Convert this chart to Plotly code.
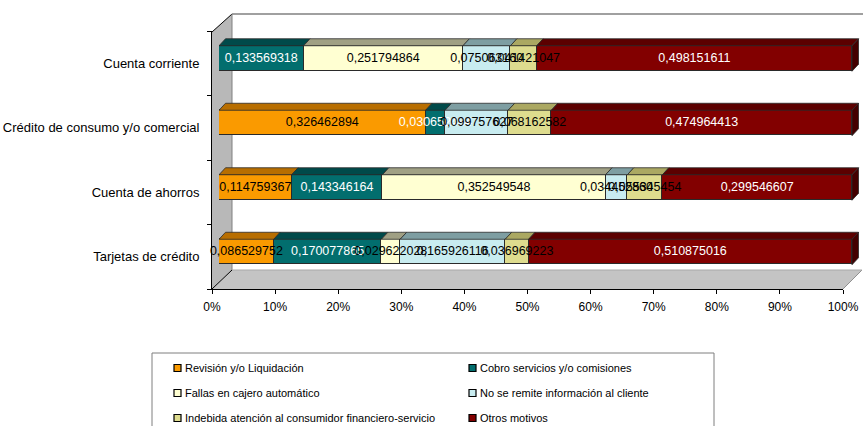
import plotly.graph_objects as go

# Categories listed bottom-to-top as they appear on the vertical axis
categories = [
    "Tarjetas de crédito",
    "Cuenta de ahorros",
    "Crédito de consumo y/o comercial",
    "Cuenta corriente",
]

series_names = [
    "Revisión y/o Liquidación",
    "Cobro servicios y/o comisiones",
    "Fallas en cajero automático",
    "No se remite información al cliente",
    "Indebida atención al consumidor financiero-servicio",
    "Otros motivos",
]

revision = [0.086529752, 0.114759367, 0.326462894, None]
cobro = [0.170077865, 0.143346164, 0.030652484, 0.133569318]
fallas = [0.029622028, 0.352549548, None, 0.251794864]
no_remite = [0.165926116, 0.034452860, 0.099757627, 0.075063160]
indebida = [0.036969223, 0.055345454, 0.068162582, 0.041421047]
otros = [0.510875016, 0.299546607, 0.474964413, 0.498151611]

x_ticks = [i / 10 for i in range(11)]

series_values = [revision, cobro, fallas, no_remite, indebida, otros]

front_colors = ["#FA9A00", "#026E6E", "#FFFFD2", "#C8ECF0", "#DEDC8E", "#820000"]
top_colors = ["#B86E00", "#004A4A", "#A0A084", "#7E9EA2", "#ABA862", "#5C0000"]
side_colors = ["#8A5200", "#003636", "#7A7A62", "#5E7A7E", "#86843E", "#440000"]
text_colors = ["#000000", "#FFFFFF", "#000000", "#000000", "#000000", "#FFFFFF"]

FONT = "Liberation Sans, Arial, sans-serif"
W, H = 863, 426


def px(x):
    return x / W


def py(y):
    return 1 - y / H


# pixel geometry of the bar plane
BAR_X0, BAR_X100, BAR_XMAX = 219, 852, 862
UNIT_PX = BAR_X100 - BAR_X0
CAT_PX = 64.5
BAR_TOP_PX = 26.25
BAR_W = 0.395
DEPTH_X, DEPTH_Y = 6.5 / UNIT_PX, 7 / CAT_PX

ypos = list(range(len(categories)))

fig = go.Figure()

# stacked bars (front faces)
for name, vals, col in zip(series_names, series_values, front_colors):
    fig.add_trace(go.Bar(
        y=ypos, x=vals, orientation="h", name=name, width=BAR_W,
        marker=dict(color=col, line=dict(color="#2a2a2a", width=1)),
        showlegend=False, hoverinfo="name+x",
    ))

# value labels centred on each segment, drawn above every bar
cum = [0.0] * len(ypos)
for name, vals, tcol in zip(series_names, series_values, text_colors):
    mids, ys, labels = [], [], []
    for ci, v in enumerate(vals):
        if v is None:
            continue
        mids.append(cum[ci] + v / 2)
        ys.append(ypos[ci])
        labels.append(f"{v:.9f}".replace(".", ","))
        cum[ci] += v
    fig.add_trace(go.Scatter(
        x=mids, y=ys, mode="text", text=labels, textposition="middle center",
        textfont=dict(family=FONT, size=12.5, color=tcol),
        cliponaxis=False, showlegend=False, hoverinfo="skip", name=name,
    ))

# front-plane axes carrying the tick labels
fig.add_trace(go.Scatter(x=[None], y=[None], xaxis="x2", yaxis="y2",
                         showlegend=False, hoverinfo="skip"))

shapes = []

# gray side wall and floor of the 3-D frame
shapes.append(dict(type="path", xref="paper", yref="paper", layer="below",
                   path=f"M {px(212)},{py(289)} L {px(212)},{py(32)} L {px(232)},{py(14)} "
                        f"L {px(232)},{py(270)} Z",
                   fillcolor="#B8B8B8", line=dict(width=0)))
shapes.append(dict(type="path", xref="paper", yref="paper", layer="below",
                   path=f"M {px(212)},{py(289)} L {px(843)},{py(289)} L {px(862)},{py(270)} "
                        f"L {px(232)},{py(270)} Z",
                   fillcolor="#C4C4C4", line=dict(width=0)))
for (xa, ya, xb, yb, c, w) in [
    (232, 14, 863, 14, "#A0A0A0", 2),
    (212, 32, 232, 14, "#000000", 1),
    (232, 14, 232, 270, "#808080", 1),
    (212, 289, 232, 270, "#000000", 1),
    (843, 289, 862, 270, "#909090", 1),
    (232, 270, 862, 270, "#A8A8A8", 1),
]:
    shapes.append(dict(type="line", xref="paper", yref="paper", layer="below",
                       x0=px(xa), y0=py(ya), x1=px(xb), y1=py(yb),
                       line=dict(color=c, width=w)))

# top and end faces of the stacked bars, derived from the stacked values
for ci, yc in enumerate(ypos):
    start = 0.0
    last = None
    yt, yb = yc + BAR_W / 2, yc - BAR_W / 2
    for si, vals in enumerate(series_values):
        v = vals[ci]
        if v is None:
            continue
        end = start + v
        shapes.append(dict(
            type="path", xref="x", yref="y", layer="above",
            path=f"M {start},{yt} L {end},{yt} L {end + DEPTH_X},{yt + DEPTH_Y} "
                 f"L {start + DEPTH_X},{yt + DEPTH_Y} Z",
            fillcolor=top_colors[si], line=dict(color="#2a2a2a", width=0.8)))
        last = (end, si)
        start = end
    end, si = last
    shapes.append(dict(
        type="path", xref="x", yref="y", layer="above",
        path=f"M {end},{yt} L {end + DEPTH_X},{yt + DEPTH_Y} L {end + DEPTH_X},{yb + DEPTH_Y} "
             f"L {end},{yb} Z",
        fillcolor=side_colors[si], line=dict(color="#2a2a2a", width=0.8)))

# legend box with two columns
shapes.append(dict(type="rect", xref="paper", yref="paper", layer="below",
                   x0=px(152), y0=py(440), x1=px(714), y1=py(353),
                   fillcolor="white", line=dict(color="#7F7F7F", width=1)))
annotations = []
col_x = [174, 469]
row_y = [368, 393, 418]
for i, (name, col) in enumerate(zip(series_names, front_colors)):
    cx = col_x[i % 2]
    ry = row_y[i // 2]
    shapes.append(dict(type="rect", xref="paper", yref="paper",
                       x0=px(cx), y0=py(ry + 3.5), x1=px(cx + 7), y1=py(ry - 3.5),
                       fillcolor=col, line=dict(color="#000000", width=1.2)))
    annotations.append(dict(xref="paper", yref="paper", x=px(cx + 8.5), y=py(ry),
                            xanchor="left", yanchor="middle", showarrow=False,
                            text=name, font=dict(family=FONT, size=11, color="#000000")))

fig.update_layout(
    width=W, height=H, autosize=False,
    margin=dict(l=0, r=0, t=0, b=0, pad=0, autoexpand=False),
    paper_bgcolor="white", plot_bgcolor="rgba(0,0,0,0)",
    barmode="stack", bargap=0,
    shapes=shapes, annotations=annotations,
    xaxis=dict(domain=[px(BAR_X0), px(BAR_XMAX)],
               range=[0, (BAR_XMAX - BAR_X0) / UNIT_PX],
               visible=False, fixedrange=True, automargin=False),
    yaxis=dict(domain=[py(BAR_TOP_PX + 4 * CAT_PX), py(BAR_TOP_PX)],
               range=[-0.5, 3.5], visible=False, fixedrange=True, automargin=False),
    xaxis2=dict(domain=[px(212), px(843)], range=[0, 1], anchor="y2", automargin=False,
                tickvals=x_ticks, tickformat=".0%", ticks="outside", ticklen=4,
                tickcolor="#000000", showline=True, linecolor="#000000", linewidth=1,
                showgrid=False, zeroline=False, ticklabelstandoff=3,
                tickfont=dict(family=FONT, size=12, color="#000000")),
    yaxis2=dict(domain=[py(289), py(31)], range=[-0.5, 3.5], anchor="x2", automargin=False,
                tickvals=ypos, ticktext=categories, ticks="",
                showline=True, linecolor="#000000", linewidth=1,
                showgrid=False, zeroline=False, ticklabelstandoff=9,
                minor=dict(tickmode="array", tickvals=[-0.5, 0.5, 1.5, 2.5, 3.5],
                           ticks="outside", ticklen=4, tickcolor="#000000", showgrid=False),
                tickfont=dict(family=FONT, size=13, color="#000000")),
)

fig.write_html("out.html", config={"displayModeBar": False})
